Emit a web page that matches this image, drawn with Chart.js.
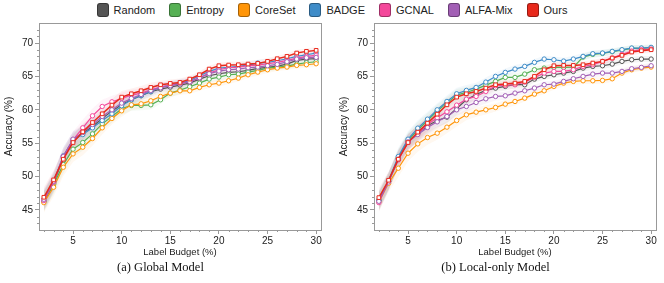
<!DOCTYPE html>
<html>
<head>
<meta charset="utf-8">
<script src="https://cdn.jsdelivr.net/npm/chart.js@4.4.1/dist/chart.umd.min.js"></script>
<style>
  body { margin: 0; width: 664px; height: 283px; overflow: hidden; background: #fff; font-family: "Liberation Sans", Arial, sans-serif; }
  #legend { position: absolute; top: 3px; left: 0; width: 664px; display: flex; justify-content: center; font-size: 11px; color: #222; }
  .item { display: flex; align-items: center; margin: 0 7px; }
  .box { width: 10px; height: 12px; border-radius: 3px; border: 1px solid rgba(0,0,0,0.35); margin-right: 5px; }
  .wrap { position: absolute; top: 0; width: 332px; height: 283px; }
</style>
</head>
<body>
<div id="legend"></div>
<div class="wrap" style="left:0"><canvas id="chart-global" width="332" height="283"></canvas></div>
<div class="wrap" style="left:335px"><canvas id="chart-local" width="332" height="283"></canvas></div>
<script>
// label budget (%) and axis ticks
const budget = [2, 3, 4, 5, 6, 7, 8, 9, 10, 11, 12, 13, 14, 15, 16, 17, 18, 19, 20, 21, 22, 23, 24, 25, 26, 27, 28, 29, 30];
const xTicks = [5, 10, 15, 20, 25, 30];
const yTicks = [45, 50, 55, 60, 65, 70];
const methods = ['Random', 'Entropy', 'CoreSet', 'BADGE', 'GCNAL', 'ALFA-Mix', 'Ours'];

// (a) global model accuracy
const globalRandom  = [46.3, 49.0, 52.8, 55.3, 56.5, 57.5, 58.7, 59.8, 60.8, 61.5, 62.1, 62.7, 63.1, 63.4, 63.7, 64.0, 64.6, 65.1, 65.4, 65.6, 65.7, 65.9, 66.2, 66.35, 66.55, 66.85, 67.4, 67.6, 67.65];
const globalEntropy = [46.3, 48.8, 51.8, 54.1, 55.1, 56.4, 57.9, 59.0, 60.15, 60.65, 60.65, 60.75, 61.5, 62.5, 62.95, 63.45, 64.0, 64.6, 64.9, 65.25, 65.35, 65.65, 65.9, 66.25, 66.4, 66.55, 66.85, 67.05, 67.2];
const globalCoreSet = [46.1, 48.4, 51.4, 53.4, 54.4, 55.7, 57.3, 58.7, 59.85, 60.75, 60.9, 61.35, 62.0, 62.5, 62.85, 62.85, 63.35, 63.75, 64.0, 64.35, 64.75, 65.25, 65.65, 66.0, 66.25, 66.4, 66.65, 66.75, 66.9];
const globalBadge   = [46.5, 49.2, 53.1, 55.5, 56.3, 57.3, 58.4, 59.4, 60.6, 61.5, 62.15, 62.75, 63.4, 63.7, 64.0, 64.35, 65.1, 65.75, 66.25, 66.35, 66.5, 66.7, 67.0, 67.1, 67.35, 67.65, 68.0, 68.25, 68.5];
const globalGcnal   = [46.4, 49.2, 53.0, 55.5, 57.3, 59.1, 60.5, 61.2, 61.7, 62.2, 62.5, 63.0, 63.4, 63.7, 63.9, 64.2, 64.8, 65.5, 66.0, 66.3, 66.4, 66.6, 66.7, 66.9, 67.1, 67.4, 67.75, 68.0, 68.15];
const globalAlfaMix = [46.6, 49.3, 53.0, 55.6, 56.6, 57.8, 59.0, 60.0, 61.0, 61.7, 62.3, 62.9, 63.3, 63.6, 63.9, 64.2, 64.8, 65.4, 65.8, 66.0, 66.1, 66.3, 66.4, 66.6, 66.8, 67.2, 67.6, 67.8, 67.85];
const globalOurs    = [46.9, 49.5, 52.6, 55.1, 56.7, 58.1, 59.4, 60.7, 61.9, 62.4, 62.85, 63.35, 63.75, 63.95, 64.1, 64.6, 65.25, 66.1, 66.6, 66.7, 66.75, 66.85, 66.95, 67.25, 67.65, 68.0, 68.5, 68.75, 68.9];
const globalSpread  = [1.5, 1.4, 1.3, 1.2, 1.2, 1.1, 1.0, 0.9, 0.9, 0.8, 0.7, 0.7, 0.6, 0.6, 0.6, 0.5, 0.5, 0.5, 0.5, 0.5, 0.5, 0.5, 0.5, 0.5, 0.45, 0.45, 0.45, 0.45, 0.45];

// (b) local-only model accuracy
const localRandom  = [46.4, 49.3, 52.7, 55.2, 56.5, 57.6, 58.4, 58.9, 60.2, 61.5, 62.3, 62.9, 63.25, 63.5, 63.8, 63.75, 64.6, 65.0, 65.25, 65.5, 65.75, 66.25, 66.5, 66.6, 66.85, 67.25, 67.5, 67.6, 67.6];
const localEntropy = [46.4, 49.3, 52.8, 55.4, 57.0, 58.4, 59.8, 61.0, 62.2, 62.6, 63.1, 63.7, 64.25, 64.85, 64.85, 65.35, 66.0, 66.25, 66.35, 66.35, 66.4, 67.9, 68.3, 68.45, 68.7, 68.95, 69.2, 69.2, 69.3];
const localCoreSet = [46.2, 49.0, 51.25, 53.5, 54.9, 55.85, 56.5, 57.4, 58.4, 59.25, 59.65, 60.0, 60.35, 60.85, 61.25, 61.75, 62.35, 62.85, 63.5, 64.0, 64.25, 64.35, 64.35, 64.4, 64.65, 65.5, 66.0, 66.25, 66.4];
const localBadge   = [46.5, 49.4, 53.0, 55.6, 57.25, 58.6, 60.0, 61.25, 62.4, 62.9, 63.35, 64.15, 65.0, 65.6, 66.1, 66.5, 67.1, 67.6, 67.5, 67.3, 67.6, 68.0, 68.4, 68.5, 68.75, 69.0, 69.25, 69.25, 69.35];
const localGcnal   = [46.1, 49.3, 52.5, 55.1, 56.5, 57.8, 58.8, 59.7, 60.7, 61.6, 62.0, 62.75, 63.6, 63.65, 63.75, 64.15, 64.85, 65.5, 65.75, 65.75, 66.0, 66.5, 66.75, 67.25, 67.75, 68.3, 68.8, 69.0, 69.1];
const localAlfaMix = [46.3, 49.2, 52.6, 55.2, 56.3, 57.35, 58.2, 59.0, 60.0, 60.5, 61.1, 61.65, 62.0, 62.1, 62.5, 62.85, 63.25, 63.75, 63.85, 64.25, 64.65, 65.0, 65.35, 65.5, 65.5, 65.75, 66.15, 66.35, 66.6];
const localOurs    = [46.85, 49.45, 52.6, 55.1, 56.65, 58.0, 59.35, 60.75, 61.9, 62.4, 62.75, 63.25, 63.75, 63.85, 64.0, 64.25, 65.0, 66.0, 66.6, 66.65, 66.65, 66.75, 67.0, 67.25, 67.75, 68.15, 68.65, 68.85, 69.0];
const localSpread  = [1.4, 1.3, 1.3, 1.2, 1.2, 1.1, 1.0, 0.9, 0.9, 0.8, 0.7, 0.7, 0.6, 0.6, 0.6, 0.5, 0.5, 0.5, 0.5, 0.5, 0.5, 0.5, 0.5, 0.5, 0.45, 0.45, 0.45, 0.45, 0.45];

const colors = ['#555555', '#56b054', '#ff9508', '#3f8cc8', '#f4489b', '#a25fb5', '#e8291c'];

// legend
const legend = document.getElementById('legend');
methods.forEach((m, i) => {
    const el = document.createElement('div');
    el.className = 'item';
    el.innerHTML = `<span class="box" style="background:${colors[i]}"></span>${m}`;
    legend.appendChild(el);
});

const tickFont = { family: '"Liberation Sans", Arial, sans-serif', size: 10 };

// box frame + minor ticks
const frameTicks = {
    id: 'frameTicks',
    afterDraw(chart) {
        const { ctx, chartArea: a, scales: { x, y } } = chart;
        ctx.save();
        ctx.strokeStyle = '#999';
        ctx.lineWidth = 1;
        ctx.strokeRect(Math.round(a.left) + 0.5, Math.round(a.top) + 0.5, Math.round(a.right - a.left), Math.round(a.bottom - a.top));
        ctx.beginPath();
        for (let v = 2; v <= 30; v++) {
            if (v % 5 === 0) continue;
            const px = Math.round(x.getPixelForValue(v)) + 0.5;
            ctx.moveTo(px, a.bottom);
            ctx.lineTo(px, a.bottom + 2);
        }
        for (let v = 43; v <= 72; v++) {
            if (v % 5 === 0) continue;
            const py = Math.round(y.getPixelForValue(v)) + 0.5;
            ctx.moveTo(a.left, py);
            ctx.lineTo(a.left - 2, py);
        }
        ctx.stroke();
        ctx.restore();
    }
};

function makeChart(id, series, spread, caption) {
    const datasets = [];
    series.forEach((vals, i) => {
        // shaded band
        datasets.push({
            data: budget.map((b, j) => ({ x: b, y: vals[j] - spread[j] })),
            borderWidth: 0, pointRadius: 0, fill: false, order: 20
        });
        datasets.push({
            data: budget.map((b, j) => ({ x: b, y: vals[j] + spread[j] })),
            borderWidth: 0, pointRadius: 0, fill: '-1', backgroundColor: colors[i] + '10', order: 20
        });
    });
    series.forEach((vals, i) => {
        const ours = i === series.length - 1;
        datasets.push({
            label: methods[i],
            data: budget.map((b, j) => ({ x: b, y: vals[j] })),
            borderColor: colors[i],
            borderWidth: ours ? 1.5 : 1.2,
            pointStyle: ours ? 'rect' : 'circle',
            pointRadius: ours ? 2.6 : 2.2,
            pointBorderWidth: 1,
            pointBackgroundColor: '#fff',
            pointBorderColor: colors[i],
            fill: false,
            order: ours ? 0 : 10 - i
        });
    });

    new Chart(document.getElementById(id), {
        type: 'line',
        data: { datasets },
        options: {
            responsive: false,
            animation: false,
            layout: { padding: { top: 23, right: 11, left: 0, bottom: 0 } },
            plugins: {
                legend: { display: false },
                tooltip: { enabled: false },
                filler: { drawTime: 'beforeDatasetsDraw' },
                title: {
                    display: true,
                    text: caption,
                    position: 'bottom',
                    color: '#111',
                    font: { family: '"Liberation Serif", "Times New Roman", serif', size: 12.5, weight: 'normal' },
                    padding: { top: 2, bottom: 8 }
                }
            },
            scales: {
                x: {
                    type: 'linear',
                    min: 1.5,
                    max: 30.5,
                    afterBuildTicks: s => { s.ticks = xTicks.map(v => ({ value: v })); },
                    afterFit: s => { s.height = 28; },
                    grid: { drawOnChartArea: false, tickLength: 4, color: '#999' },
                    border: { color: '#999' },
                    ticks: { font: tickFont, color: '#222', padding: 1, maxRotation: 0 },
                    title: { display: true, text: 'Label Budget (%)', font: { family: tickFont.family, size: 9.5 }, color: '#222', padding: 0 }
                },
                y: {
                    min: 42,
                    max: 73,
                    afterBuildTicks: s => { s.ticks = yTicks.map(v => ({ value: v })); },
                    afterFit: s => { s.width = 39; },
                    grid: { drawOnChartArea: false, tickLength: 4, color: '#999' },
                    border: { color: '#999' },
                    ticks: { font: tickFont, color: '#222', padding: 2 },
                    title: { display: true, text: 'Accuracy (%)', font: { family: tickFont.family, size: 10 }, color: '#222', padding: { top: 3, bottom: 0 } }
                }
            }
        },
        plugins: [frameTicks]
    });
}

makeChart('chart-global',
    [globalRandom, globalEntropy, globalCoreSet, globalBadge, globalGcnal, globalAlfaMix, globalOurs],
    globalSpread, '(a) Global Model');
makeChart('chart-local',
    [localRandom, localEntropy, localCoreSet, localBadge, localGcnal, localAlfaMix, localOurs],
    localSpread, '(b) Local-only Model');
</script>
</body>
</html>
